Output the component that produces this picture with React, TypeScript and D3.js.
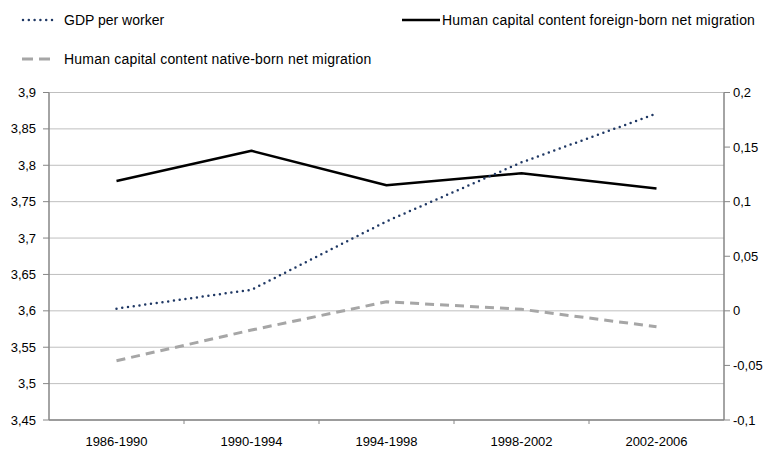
import React from "react";
import * as d3 from "d3";

const categories = ["1986-1990", "1990-1994", "1994-1998", "1998-2002", "2002-2006"];
const gdpPerWorker = [3.603, 3.629, 3.723, 3.804, 3.871];
const foreignBorn = [0.119, 0.1466, 0.115, 0.126, 0.112];
const nativeBorn = [-0.0457, -0.0176, 0.0083, 0.0014, -0.0146];
const leftTicks = [3.45, 3.5, 3.55, 3.6, 3.65, 3.7, 3.75, 3.8, 3.85, 3.9];
const rightTicks = [-0.1, -0.05, 0, 0.05, 0.1, 0.15, 0.2];

const W = 771;
const H = 450;
const L = 49;
const R = 724;
const T = 92.5;
const B = 420;
const FONT = "'Liberation Sans', Arial, sans-serif";

const fmt = (v: number) => String(Math.round(v * 1000) / 1000).replace(".", ",");

export default function App() {
  const x = d3.scaleBand<string>().domain(categories).range([L, R]);
  const yL = d3.scaleLinear().domain([3.45, 3.9]).range([B, T]);
  const yR = d3.scaleLinear().domain([-0.1, 0.2]).range([B, T]);
  const cx = (c: string) => (x(c) as number) + x.bandwidth() / 2;

  const lineL = d3.line<number>().x((_, i) => cx(categories[i])).y((d) => yL(d));
  const lineR = d3.line<number>().x((_, i) => cx(categories[i])).y((d) => yR(d));

  const axisColor = "#868686";
  const gridColor = "#bfbfbf";
  const gdpColor = "#1f3864";
  const nativeColor = "#a6a6a6";

  return (
    <svg width={W} height={H} style={{ position: "absolute", left: 0, top: 0, background: "#fff" }} fontFamily={FONT}>
      <rect x={0} y={0} width={W} height={H} fill="#fff" />
      {leftTicks.map((t) => (
        <line key={"g" + t} x1={L} x2={R} y1={yL(t)} y2={yL(t)} stroke={gridColor} strokeWidth={1} />
      ))}
      {/* left axis */}
      <line x1={L} x2={L} y1={T} y2={B} stroke={axisColor} strokeWidth={1.5} />
      {leftTicks.map((t) => (
        <g key={"l" + t}>
          <line x1={L - 6} x2={L} y1={yL(t)} y2={yL(t)} stroke={axisColor} strokeWidth={1} />
          <text x={L - 13} y={yL(t)} dy="0.35em" textAnchor="end" fontSize={13} fill="#000">
            {fmt(t)}
          </text>
        </g>
      ))}
      {/* right axis */}
      <line x1={R} x2={R} y1={T} y2={B} stroke={axisColor} strokeWidth={1.5} />
      {rightTicks.map((t) => (
        <g key={"r" + t}>
          <line x1={R} x2={R + 6} y1={yR(t)} y2={yR(t)} stroke={axisColor} strokeWidth={1} />
          <text x={R + 9} y={yR(t)} dy="0.35em" textAnchor="start" fontSize={13} fill="#000">
            {fmt(t)}
          </text>
        </g>
      ))}
      {/* bottom axis */}
      <line x1={L} x2={R} y1={B} y2={B} stroke={axisColor} strokeWidth={1.5} />
      {categories.map((c, i) => (
        <g key={c}>
          {i > 0 && <line x1={x(c) as number} x2={x(c) as number} y1={B} y2={B + 4} stroke={axisColor} strokeWidth={1} />}
          <text x={cx(c)} y={441} dy="0.35em" textAnchor="middle" fontSize={13} fill="#000">
            {c}
          </text>
        </g>
      ))}
      {/* series */}
      <path d={lineR(nativeBorn) || ""} fill="none" stroke={nativeColor} strokeWidth={3} strokeDasharray="9 6" />
      <path d={lineR(foreignBorn) || ""} fill="none" stroke="#000" strokeWidth={2.5} strokeLinejoin="round" />
      <path d={lineL(gdpPerWorker) || ""} fill="none" stroke={gdpColor} strokeWidth={2.5} strokeDasharray="0 5.8" strokeLinecap="round" />
      {/* legend */}
      <line x1={23} x2={55} y1={20} y2={20} stroke={gdpColor} strokeWidth={2.5} strokeDasharray="0 5.8" strokeLinecap="round" />
      <text x={64} y={20} dy="0.35em" fontSize={14} fill="#000">GDP per worker</text>
      <line x1={402} x2={440} y1={20} y2={20} stroke="#000" strokeWidth={2.5} />
      <text x={442} y={20} dy="0.35em" fontSize={14} letterSpacing={0.2} fill="#000">Human capital content foreign-born net migration</text>
      <line x1={22} x2={56} y1={59} y2={59} stroke={nativeColor} strokeWidth={3} strokeDasharray="11 6" />
      <text x={64} y={59} dy="0.35em" fontSize={14} letterSpacing={0.2} fill="#000">Human capital content native-born net migration</text>
    </svg>
  );
}
